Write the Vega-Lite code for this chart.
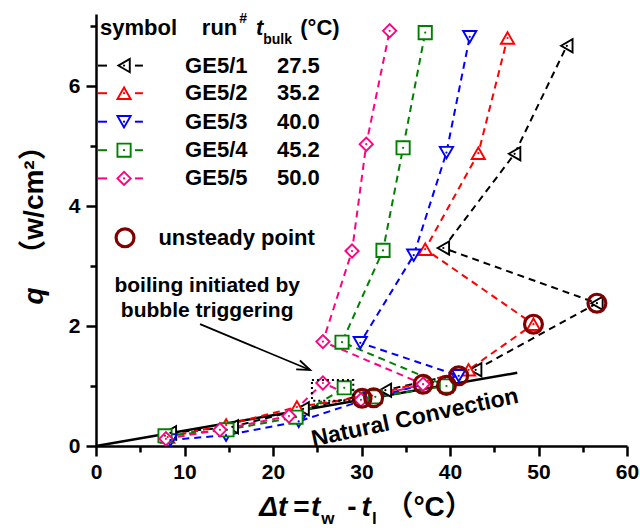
{
  "$schema": "https://vega.github.io/schema/vega-lite/v6.json",
  "width": 531,
  "height": 432,
  "autosize": {"type": "none"},
  "padding": {"left": 96, "top": 14, "right": 13, "bottom": 82},
  "background": "white",
  "config": {"view": {"stroke": null}, "font": "Liberation Sans"},
  "datasets": {
    "main": [
      {"s": "GE5/1", "o": 1, "x": 8.4, "q": 0.22},
      {"s": "GE5/1", "o": 2, "x": 15.4, "q": 0.32},
      {"s": "GE5/1", "o": 3, "x": 23.4, "q": 0.62},
      {"s": "GE5/1", "o": 4, "x": 32.7, "q": 0.93},
      {"s": "GE5/1", "o": 5, "x": 42.9, "q": 1.27},
      {"s": "GE5/1", "o": 6, "x": 56.6, "q": 2.38},
      {"s": "GE5/1", "o": 7, "x": 39.25, "q": 3.30},
      {"s": "GE5/1", "o": 8, "x": 47.3, "q": 4.87},
      {"s": "GE5/1", "o": 9, "x": 53.2, "q": 6.67},
      {"s": "GE5/2", "o": 1, "x": 8.1, "q": 0.15},
      {"s": "GE5/2", "o": 2, "x": 14.7, "q": 0.35},
      {"s": "GE5/2", "o": 3, "x": 22.7, "q": 0.65},
      {"s": "GE5/2", "o": 4, "x": 31.2, "q": 0.84},
      {"s": "GE5/2", "o": 5, "x": 42.1, "q": 1.27},
      {"s": "GE5/2", "o": 6, "x": 49.43, "q": 2.03},
      {"s": "GE5/2", "o": 7, "x": 37.2, "q": 3.28},
      {"s": "GE5/2", "o": 8, "x": 43.2, "q": 4.88},
      {"s": "GE5/2", "o": 9, "x": 46.5, "q": 6.80},
      {"s": "GE5/3", "o": 1, "x": 8.4, "q": 0.10},
      {"s": "GE5/3", "o": 2, "x": 14.7, "q": 0.18},
      {"s": "GE5/3", "o": 3, "x": 22.9, "q": 0.41},
      {"s": "GE5/3", "o": 4, "x": 31.0, "q": 0.80},
      {"s": "GE5/3", "o": 5, "x": 40.98, "q": 1.17},
      {"s": "GE5/3", "o": 6, "x": 29.86, "q": 1.72},
      {"s": "GE5/3", "o": 7, "x": 35.9, "q": 3.18},
      {"s": "GE5/3", "o": 8, "x": 39.6, "q": 4.89},
      {"s": "GE5/3", "o": 9, "x": 42.23, "q": 6.82},
      {"s": "GE5/4", "o": 1, "x": 7.8, "q": 0.17},
      {"s": "GE5/4", "o": 2, "x": 14.8, "q": 0.27},
      {"s": "GE5/4", "o": 3, "x": 22.6, "q": 0.48},
      {"s": "GE5/4", "o": 4, "x": 28.05, "q": 0.97},
      {"s": "GE5/4", "o": 5, "x": 31.56, "q": 0.82},
      {"s": "GE5/4", "o": 6, "x": 39.6, "q": 1.0},
      {"s": "GE5/4", "o": 7, "x": 27.8, "q": 1.73},
      {"s": "GE5/4", "o": 8, "x": 32.43, "q": 3.26},
      {"s": "GE5/4", "o": 9, "x": 34.7, "q": 4.97},
      {"s": "GE5/4", "o": 10, "x": 37.2, "q": 6.89},
      {"s": "GE5/5", "o": 1, "x": 7.9, "q": 0.12},
      {"s": "GE5/5", "o": 2, "x": 14.0, "q": 0.27},
      {"s": "GE5/5", "o": 3, "x": 21.8, "q": 0.50},
      {"s": "GE5/5", "o": 4, "x": 25.64, "q": 1.05},
      {"s": "GE5/5", "o": 5, "x": 29.94, "q": 0.77},
      {"s": "GE5/5", "o": 6, "x": 36.96, "q": 1.03},
      {"s": "GE5/5", "o": 7, "x": 25.64, "q": 1.74},
      {"s": "GE5/5", "o": 8, "x": 28.93, "q": 3.25},
      {"s": "GE5/5", "o": 9, "x": 30.54, "q": 5.03},
      {"s": "GE5/5", "o": 10, "x": 33.18, "q": 6.92}
    ],
    "circ": [
      {"x": 30.06, "q": 0.795},
      {"x": 31.37, "q": 0.805},
      {"x": 36.96, "q": 1.03},
      {"x": 39.6, "q": 1.01},
      {"x": 40.98, "q": 1.17},
      {"x": 49.43, "q": 2.03},
      {"x": 56.6, "q": 2.38}
    ],
    "leg": [
      {"s": "GE5/1", "x": 3.17, "q": 6.34},
      {"s": "GE5/2", "x": 3.17, "q": 5.88},
      {"s": "GE5/3", "x": 3.17, "q": 5.405},
      {"s": "GE5/4", "x": 3.17, "q": 4.93},
      {"s": "GE5/5", "x": 3.17, "q": 4.46}
    ],
    "legdash": [
      {"s": "GE5/1", "x": 0.23, "x2": 1.24, "q": 6.34},
      {"s": "GE5/1", "x": 4.4, "x2": 5.3, "q": 6.34},
      {"s": "GE5/2", "x": 0.23, "x2": 1.24, "q": 5.88},
      {"s": "GE5/2", "x": 4.4, "x2": 5.3, "q": 5.88},
      {"s": "GE5/3", "x": 0.23, "x2": 1.24, "q": 5.405},
      {"s": "GE5/3", "x": 4.4, "x2": 5.3, "q": 5.405},
      {"s": "GE5/4", "x": 0.23, "x2": 1.24, "q": 4.93},
      {"s": "GE5/4", "x": 4.4, "x2": 5.3, "q": 4.93},
      {"s": "GE5/5", "x": 0.23, "x2": 1.24, "q": 4.46},
      {"s": "GE5/5", "x": 4.4, "x2": 5.3, "q": 4.46}
    ],
    "legtxt": [
      {"t": "symbol", "x": 0.45, "q": 6.96},
      {"t": "run", "x": 11.96, "q": 6.96},
      {"t": "(°C)", "x": 23.08, "q": 6.96},
      {"t": "GE5/1", "x": 10.07, "q": 6.34},
      {"t": "GE5/2", "x": 10.07, "q": 5.88},
      {"t": "GE5/3", "x": 10.07, "q": 5.405},
      {"t": "GE5/4", "x": 10.07, "q": 4.93},
      {"t": "GE5/5", "x": 10.07, "q": 4.46},
      {"t": "27.5", "x": 20.44, "q": 6.34},
      {"t": "35.2", "x": 20.44, "q": 5.88},
      {"t": "40.0", "x": 20.44, "q": 5.405},
      {"t": "45.2", "x": 20.44, "q": 4.93},
      {"t": "50.0", "x": 20.44, "q": 4.46},
      {"t": "unsteady point", "x": 7.05, "q": 3.47}
    ]
  },
  "encoding": {
    "x": {
      "field": "x", "type": "quantitative",
      "scale": {"domain": [0, 60], "nice": false, "zero": false},
      "axis": {
        "values": [0, 5, 10, 15, 20, 25, 30, 35, 40, 45, 50, 55, 60],
        "labelExpr": "datum.value % 10 === 0 ? datum.label : ''",
        "grid": false, "domainColor": "black", "domainWidth": 2.5,
        "tickColor": "black", "tickWidth": 2.5,
        "tickSize": {"condition": {"test": "datum.value % 10 === 0", "value": 10}, "value": 6},
        "labelFont": "Liberation Sans", "labelFontSize": 21, "labelFontWeight": "bold",
        "labelColor": "black", "labelPadding": 5, "labelFlush": false, "labelOverlap": false,
        "title": null
      }
    },
    "y": {
      "field": "q", "type": "quantitative",
      "scale": {"domain": [0, 7.2], "nice": false, "zero": false},
      "axis": {
        "values": [0, 1, 2, 3, 4, 5, 6, 7],
        "labelExpr": "datum.value % 2 === 0 ? datum.label : ''",
        "grid": false, "domainColor": "black", "domainWidth": 2.5,
        "tickColor": "black", "tickWidth": 2.5,
        "tickSize": {"condition": {"test": "datum.value % 2 === 0", "value": 10}, "value": 6},
        "labelFont": "Liberation Sans", "labelFontSize": 21, "labelFontWeight": "bold",
        "labelColor": "black", "labelPadding": 6, "labelOverlap": false,
        "title": null
      }
    }
  },
  "layer": [
    {
      "data": {"values": [{"x": 0, "q": 0}, {"x": 47.6, "q": 1.22}]},
      "mark": {"type": "line", "color": "black", "strokeWidth": 2.5}
    },
    {
      "data": {"name": "main"},
      "mark": {"type": "line", "strokeWidth": 2, "strokeDash": [7, 5]},
      "encoding": {
        "color": {"field": "s", "type": "nominal", "scale": {"domain": ["GE5/1", "GE5/2", "GE5/3", "GE5/4", "GE5/5"], "range": ["#000000", "#FF0000", "#0000FF", "#008000", "#FF0080"]}, "legend": null},
        "order": {"field": "o", "type": "quantitative"}
      }
    },
    {
      "data": {"name": "legdash"},
      "mark": {"type": "rule", "strokeWidth": 2},
      "encoding": {
        "x2": {"field": "x2"},
        "color": {"field": "s", "type": "nominal", "legend": null}
      }
    },
    {
      "data": {"name": "main"},
      "mark": {"type": "point", "filled": false, "fill": "white", "fillOpacity": 1, "strokeWidth": 1.9, "opacity": 1},
      "encoding": {
        "color": {"field": "s", "type": "nominal", "legend": null},
        "shape": {"field": "s", "type": "nominal", "scale": {"domain": ["GE5/1", "GE5/2", "GE5/3", "GE5/4", "GE5/5"], "range": ["triangle-left", "triangle-up", "triangle-down", "square", "diamond"]}, "legend": null},
        "size": {"field": "s", "type": "nominal", "scale": {"domain": ["GE5/1", "GE5/2", "GE5/3", "GE5/4", "GE5/5"], "range": [175, 175, 175, 120, 210]}, "legend": null}
      }
    },
    {
      "data": {"name": "leg"},
      "mark": {"type": "point", "filled": false, "fill": "white", "fillOpacity": 1, "strokeWidth": 1.9, "opacity": 1},
      "encoding": {
        "color": {"field": "s", "type": "nominal", "legend": null},
        "shape": {"field": "s", "type": "nominal", "legend": null},
        "size": {"field": "s", "type": "nominal", "legend": null}
      }
    },
    {
      "data": {"name": "main"},
      "mark": {"type": "point", "filled": true, "shape": "circle", "size": 5, "opacity": 1},
      "encoding": {"color": {"field": "s", "type": "nominal", "legend": null}}
    },
    {
      "data": {"name": "leg"},
      "mark": {"type": "point", "filled": true, "shape": "circle", "size": 5, "opacity": 1},
      "encoding": {"color": {"field": "s", "type": "nominal", "legend": null}}
    },
    {
      "data": {"name": "circ"},
      "mark": {"type": "point", "shape": "circle", "filled": false, "color": "#800000", "strokeWidth": 3.2, "size": 320, "opacity": 1}
    },
    {
      "data": {"values": [{"x": 3.28, "q": 3.47}]},
      "mark": {"type": "point", "shape": "circle", "filled": false, "color": "#800000", "strokeWidth": 3.2, "size": 320, "opacity": 1}
    },
    {
      "data": {"values": [{"x": 24.4, "x2": 29.07, "q": 1.1, "q2": 0.755}]},
      "mark": {"type": "rect", "fill": "white", "fillOpacity": 0, "stroke": "black", "strokeWidth": 2, "strokeDash": [2, 3]},
      "encoding": {"x2": {"field": "x2"}, "y2": {"field": "q2"}}
    },
    {
      "data": {"values": [
        {"p": "a", "o": 1, "x": 11.76, "q": 2.03},
        {"p": "a", "o": 2, "x": 24.2, "q": 1.267},
        {"p": "b", "o": 1, "x": 23.04, "q": 1.425},
        {"p": "b", "o": 2, "x": 24.2, "q": 1.267},
        {"p": "b", "o": 3, "x": 22.62, "q": 1.278}
      ]},
      "mark": {"type": "line", "color": "black", "strokeWidth": 1.8},
      "encoding": {"detail": {"field": "p"}, "order": {"field": "o", "type": "quantitative"}}
    },
    {
      "data": {"name": "legtxt"},
      "mark": {"type": "text", "font": "Liberation Sans", "fontWeight": "bold", "fontSize": 22, "align": "left", "baseline": "middle", "color": "black"},
      "encoding": {"text": {"field": "t"}}
    },
    {
      "data": {"values": [{"t": "t", "x": 18.07, "q": 6.96}]},
      "mark": {"type": "text", "font": "Liberation Sans", "fontWeight": "bold", "fontStyle": "italic", "fontSize": 22, "align": "left", "baseline": "middle", "color": "black"},
      "encoding": {"text": {"field": "t"}}
    },
    {
      "data": {"values": [{"t": "#", "x": 16.2, "q": 7.12}, {"t": "bulk", "x": 18.9, "q": 6.77}]},
      "mark": {"type": "text", "font": "Liberation Sans", "fontWeight": "bold", "fontSize": 14, "align": "left", "baseline": "middle", "color": "black"},
      "encoding": {"text": {"field": "t"}}
    },
    {
      "data": {"values": [{"t": "boiling initiated by", "x": 12.56, "q": 2.57}, {"t": "bubble triggering", "x": 12.56, "q": 2.145}]},
      "mark": {"type": "text", "font": "Liberation Sans", "fontWeight": "bold", "fontSize": 21, "align": "center", "baseline": "alphabetic", "color": "black"},
      "encoding": {"text": {"field": "t"}}
    },
    {
      "data": {"values": [{"t": "Natural Convection", "x": 36.2, "q": 0.358}]},
      "mark": {"type": "text", "font": "Liberation Sans", "fontWeight": "bold", "fontSize": 23, "angle": 348, "align": "center", "baseline": "alphabetic", "color": "black"},
      "encoding": {"text": {"field": "t"}}
    },
    {
      "data": {"values": [{"t": "q", "x": -6.9, "q": 2.5}]},
      "mark": {"type": "text", "font": "Liberation Sans", "fontWeight": "bold", "fontStyle": "italic", "fontSize": 28, "angle": 270, "align": "center", "baseline": "middle", "color": "black"},
      "encoding": {"text": {"field": "t"}}
    },
    {
      "data": {"values": [{"t": "（w/cm²）", "x": -6.9, "q": 4.1}]},
      "mark": {"type": "text", "font": "Liberation Sans, Noto Sans CJK SC", "fontWeight": "bold", "fontSize": 28, "angle": 270, "align": "center", "baseline": "middle", "color": "black"},
      "encoding": {"text": {"field": "t"}}
    },
    {
      "data": {"values": [{"t": "Δt", "x": 18.44, "q": -1.17}, {"t": "t", "x": 24.3, "q": -1.17}, {"t": "t", "x": 30.0, "q": -1.17}]},
      "mark": {"type": "text", "font": "Liberation Sans", "fontWeight": "bold", "fontStyle": "italic", "fontSize": 28, "align": "left", "baseline": "alphabetic", "color": "black"},
      "encoding": {"text": {"field": "t"}}
    },
    {
      "data": {"values": [{"t": "=", "x": 22.3, "q": -1.17}, {"t": "-", "x": 28.4, "q": -1.17}, {"t": "（°C）", "x": 32.7, "q": -1.17}]},
      "mark": {"type": "text", "font": "Liberation Sans, Noto Sans CJK SC", "fontWeight": "bold", "fontSize": 28, "align": "left", "baseline": "alphabetic", "color": "black"},
      "encoding": {"text": {"field": "t"}}
    },
    {
      "data": {"values": [{"t": "w", "x": 25.45, "q": -1.3}, {"t": "l", "x": 31.2, "q": -1.3}]},
      "mark": {"type": "text", "font": "Liberation Sans", "fontWeight": "bold", "fontSize": 17, "align": "left", "baseline": "alphabetic", "color": "black"},
      "encoding": {"text": {"field": "t"}}
    }
  ]
}
